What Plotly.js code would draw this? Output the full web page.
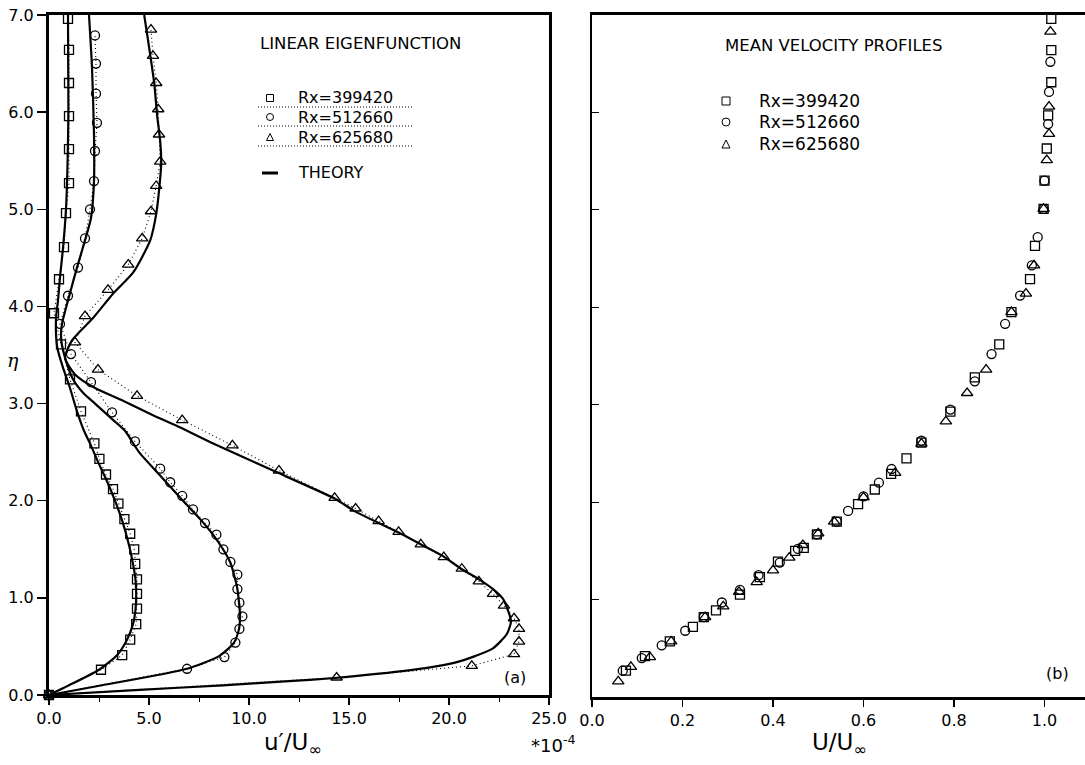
<!DOCTYPE html>
<html>
<head>
<meta charset="utf-8">
<script src="https://cdn.plot.ly/plotly-3.0.1.min.js"></script>
<style>html,body{margin:0;padding:0;background:#fff;}#chart{width:1085px;height:765px;}</style>
</head>
<body>
<div id="chart"></div>
<script>
// ---------- Panel (a): linear eigenfunction u'/U_inf (x 1e-4) vs eta ----------
const seriesNames = ['Rx=399420', 'Rx=512660', 'Rx=625680'];

const sqEta = [0, 0.26, 0.41, 0.57, 0.73, 0.89, 1.04, 1.19, 1.35, 1.50, 1.66, 1.81, 1.97, 2.12, 2.27, 2.43, 2.59, 2.92, 3.25, 3.61, 3.93, 4.28, 4.61, 4.96, 5.27, 5.62, 5.96, 6.30, 6.64, 6.96];
const sqU   = [0, 2.6, 3.66, 4.06, 4.36, 4.4, 4.4, 4.4, 4.31, 4.26, 4.06, 3.77, 3.47, 3.2, 2.85, 2.52, 2.27, 1.6, 1.05, 0.6, 0.25, 0.5, 0.75, 0.85, 1.0, 1.0, 1.0, 1.0, 1.0, 0.95];

const ciEta = [0, 0.27, 0.39, 0.54, 0.68, 0.81, 0.95, 1.09, 1.24, 1.37, 1.50, 1.65, 1.77, 1.91, 2.05, 2.19, 2.33, 2.61, 2.91, 3.22, 3.51, 3.82, 4.11, 4.40, 4.70, 5.00, 5.29, 5.60, 5.89, 6.19, 6.50, 6.79];
const ciU   = [0, 6.9, 8.77, 9.32, 9.52, 9.67, 9.52, 9.42, 9.42, 9.07, 8.72, 8.37, 7.8, 7.2, 6.66, 6.06, 5.56, 4.3, 3.15, 2.1, 1.1, 0.55, 0.95, 1.45, 1.8, 2.05, 2.25, 2.3, 2.4, 2.35, 2.35, 2.3];

const trEta = [0, 0.18, 0.30, 0.42, 0.55, 0.68, 0.79, 0.92, 1.04, 1.17, 1.30, 1.42, 1.55, 1.68, 1.79, 1.92, 2.03, 2.31, 2.57, 2.83, 3.08, 3.35, 3.63, 3.90, 4.17, 4.43, 4.70, 4.98, 5.24, 5.49, 5.77, 6.03, 6.30, 6.58, 6.85];
const trU   = [0, 14.38, 21.14, 23.25, 23.5, 23.5, 23.25, 22.75, 22.2, 21.49, 20.64, 19.74, 18.59, 17.48, 16.48, 15.33, 14.28, 11.5, 9.17, 6.66, 4.4, 2.45, 1.3, 1.8, 2.95, 3.96, 4.66, 5.1, 5.36, 5.56, 5.5, 5.46, 5.36, 5.2, 5.1];

// theory curves
const th1Eta = [0, 0.1, 0.26, 0.41, 0.57, 0.73, 0.89, 1.04, 1.2, 1.35, 1.5, 1.66, 1.8, 2.0, 2.2, 2.4, 2.59, 2.72, 2.92, 3.16, 3.37, 3.57, 3.72, 3.9, 4.06, 4.3, 4.6, 5.0, 5.5, 6.0, 6.5, 7.0];
const th1U   = [0, 1.0, 2.5, 3.4, 3.9, 4.2, 4.33, 4.36, 4.32, 4.2, 4.05, 3.85, 3.65, 3.3, 2.9, 2.45, 2.05, 1.75, 1.4, 1.05, 0.7, 0.42, 0.35, 0.36, 0.45, 0.55, 0.7, 0.85, 0.93, 0.97, 0.96, 0.95];

const th2Eta = [0, 0.1, 0.27, 0.4, 0.54, 0.68, 0.81, 0.95, 1.09, 1.24, 1.37, 1.5, 1.65, 1.8, 2.0, 2.25, 2.5, 2.72, 2.85, 3.0, 3.1, 3.25, 3.44, 3.6, 3.7, 3.82, 4.1, 4.4, 4.68, 4.91, 5.29, 5.77, 6.46, 7.0];
const th2U   = [0, 2.65, 6.9, 8.5, 9.25, 9.5, 9.55, 9.5, 9.42, 9.25, 9.05, 8.7, 8.2, 7.6, 6.7, 5.6, 4.5, 3.8, 3.1, 2.3, 1.75, 1.2, 0.85, 0.65, 0.6, 0.65, 1.0, 1.4, 1.8, 2.1, 2.25, 2.25, 2.15, 2.0];

const th3Eta = [0, 0.05, 0.1, 0.14, 0.175, 0.22, 0.28, 0.33, 0.4, 0.48, 0.63, 0.76, 0.9, 0.99, 1.09, 1.19, 1.30, 1.43, 1.55, 1.67, 1.89, 2.02, 2.31, 2.45, 2.6, 2.75, 2.88, 3.03, 3.16, 3.3, 3.47, 3.65, 3.88, 4.13, 4.35, 4.68, 4.95, 5.21, 5.47, 5.7, 5.96, 6.3, 6.73, 7.0];
const th3U   = [0, 4.3, 8.7, 11.8, 14.3, 16.5, 18.9, 20.25, 21.3, 22.2, 22.9, 23.1, 22.9, 22.7, 22.2, 21.5, 20.6, 19.7, 18.6, 17.5, 15.3, 14.3, 11.2, 9.7, 8.1, 6.6, 5.2, 3.7, 2.3, 1.3, 0.8, 1.15, 2.2, 3.2, 4.21, 5.06, 5.36, 5.51, 5.61, 5.56, 5.41, 5.26, 4.96, 4.76];

const aTickVals = [0, 5, 10, 15, 20, 25];
const aTickText = ['0.0', '5.0', '10.0', '15.0', '20.0', '25.0'];
const etaTickVals = [0, 1, 2, 3, 4, 5, 6, 7];
const etaTickText = ['0.0', '1.0', '2.0', '3.0', '4.0', '5.0', '6.0', '7.0'];

// ---------- Panel (b): mean velocity profiles U/U_inf vs eta ----------
const mSqU   = [0.075, 0.117, 0.172, 0.223, 0.247, 0.274, 0.327, 0.371, 0.411, 0.449, 0.468, 0.497, 0.541, 0.588, 0.625, 0.661, 0.695, 0.728, 0.792, 0.846, 0.90, 0.927, 0.968, 0.979, 0.998, 1.0, 1.005, 1.008, 1.015, 1.015, 1.015];
const mSqEta = [0.27, 0.42, 0.57, 0.72, 0.82, 0.89, 1.05, 1.23, 1.39, 1.50, 1.53, 1.67, 1.80, 1.98, 2.13, 2.29, 2.45, 2.61, 2.93, 3.28, 3.62, 3.95, 4.29, 4.63, 5.01, 5.30, 5.63, 5.97, 6.31, 6.64, 6.96];

const mCiU   = [0.068, 0.11, 0.154, 0.206, 0.247, 0.287, 0.327, 0.368, 0.415, 0.455, 0.497, 0.541, 0.566, 0.60, 0.634, 0.662, 0.728, 0.792, 0.846, 0.883, 0.913, 0.946, 0.972, 0.985, 0.998, 1.0, 1.008, 1.01, 1.013];
const mCiEta = [0.27, 0.40, 0.53, 0.68, 0.82, 0.97, 1.10, 1.25, 1.38, 1.52, 1.67, 1.80, 1.91, 2.06, 2.20, 2.34, 2.63, 2.95, 3.24, 3.52, 3.83, 4.12, 4.43, 4.72, 5.01, 5.30, 5.88, 6.21, 6.52];

const mTrU   = [0.058, 0.086, 0.128, 0.175, 0.25, 0.29, 0.325, 0.364, 0.40, 0.436, 0.466, 0.50, 0.535, 0.60, 0.67, 0.728, 0.782, 0.829, 0.871, 0.927, 0.959, 0.977, 0.998, 1.005, 1.01, 1.01, 1.013];
const mTrEta = [0.16, 0.31, 0.41, 0.57, 0.82, 0.93, 1.08, 1.18, 1.30, 1.43, 1.56, 1.68, 1.80, 2.05, 2.30, 2.60, 2.83, 3.12, 3.36, 3.95, 4.14, 4.43, 5.01, 5.51, 5.78, 6.06, 6.83];

const bTickVals = [0, 0.2, 0.4, 0.6, 0.8, 1.0];
const bTickText = ['0.0', '0.2', '0.4', '0.6', '0.8', '1.0'];

// ---------- helpers ----------
const W = 1085, H = 765;
const px = v => v / W;
const py = v => 1 - v / H;
const FONT = 'DejaVu Sans, Liberation Sans, sans-serif';
const BLACK = '#000';

const symbols = ['square-open', 'circle-open', 'triangle-up-open'];
const symSize = [9, 9, 10];

function dataTrace(u, eta, i, xa, ya, withLine) {
  return {
    x: u, y: eta, xaxis: xa, yaxis: ya,
    type: 'scatter', mode: withLine ? 'lines+markers' : 'markers',
    name: seriesNames[i], showlegend: false, cliponaxis: false,
    line: {color: BLACK, width: 1.1, dash: '1px,3px'},
    marker: {symbol: symbols[i], size: symSize[i], color: BLACK, line: {color: BLACK, width: 1.3}}
  };
}
function theoryTrace(u, eta) {
  return {x: u, y: eta, xaxis: 'x', yaxis: 'y', type: 'scatter', mode: 'lines',
    line: {color: BLACK, width: 2.2, shape: 'spline', smoothing: 0.6}, showlegend: false, cliponaxis: true, name: 'THEORY'};
}

const traces = [
  theoryTrace(th1U, th1Eta), theoryTrace(th2U, th2Eta), theoryTrace(th3U, th3Eta),
  dataTrace(sqU, sqEta, 0, 'x', 'y', true),
  dataTrace(ciU, ciEta, 1, 'x', 'y', true),
  dataTrace(trU, trEta, 2, 'x', 'y', true),
  dataTrace(mSqU, mSqEta, 0, 'x2', 'y2', false),
  dataTrace(mCiU, mCiEta, 1, 'x2', 'y2', false),
  dataTrace(mTrU, mTrEta, 2, 'x2', 'y2', false)
];

const tickFont = {family: FONT, size: 16, color: BLACK};
const layout = {
  width: W, height: H,
  margin: {l: 0, r: 0, t: 0, b: 0},
  paper_bgcolor: '#fff', plot_bgcolor: '#fff',
  showlegend: false,
  font: {family: FONT, color: BLACK, size: 16},
  xaxis: {
    domain: [px(49), px(549)], range: [0, 25], anchor: 'y',
    tickvals: aTickVals, ticktext: aTickText, ticks: 'outside', ticklen: 7, tickwidth: 1.5, tickcolor: BLACK,
    minor: {ticks: 'outside', dtick: 2.5, ticklen: 4, tickwidth: 1, tickcolor: BLACK},
    showline: true, linewidth: 3, linecolor: BLACK, mirror: true,
    showgrid: false, zeroline: false, tickfont: tickFont
  },
  yaxis: {
    domain: [py(695), py(15)], range: [0, 7], anchor: 'x',
    tickvals: etaTickVals, ticktext: etaTickText, ticks: 'outside', ticklen: 9, tickwidth: 1.5, tickcolor: BLACK,
    showline: true, linewidth: 3, linecolor: BLACK, mirror: true,
    showgrid: false, zeroline: false, tickfont: tickFont
  },
  xaxis2: {
    domain: [px(592), 1], range: [0, 1.0895], anchor: 'y2',
    tickvals: bTickVals, ticktext: bTickText, ticks: 'outside', ticklen: 7, tickwidth: 1.5, tickcolor: BLACK,
    showline: true, linewidth: 3, linecolor: BLACK, mirror: true,
    showgrid: false, zeroline: false, tickfont: tickFont
  },
  yaxis2: {
    domain: [py(697), py(15)], range: [0, 7], anchor: 'x2',
    tickvals: etaTickVals, ticks: 'inside', ticklen: 7, tickwidth: 1, tickcolor: BLACK,
    showticklabels: false, tickfont: tickFont,
    showline: true, linewidth: 2.5, linecolor: BLACK, mirror: false,
    showgrid: false, zeroline: false
  },
  annotations: [],
  shapes: []
};

function note(text, x, y, size, xanchor, extra) {
  layout.annotations.push(Object.assign({
    text: text, xref: 'paper', yref: 'paper', x: px(x), y: py(y),
    xanchor: xanchor || 'center', yanchor: 'middle', showarrow: false,
    font: {family: FONT, size: size, color: BLACK}
  }, extra || {}));
}

// panel titles
note('LINEAR EIGENFUNCTION', 360, 43, 16.5);
note('MEAN VELOCITY PROFILES', 833, 45, 16.5);

// axis titles
note('u\u2032/U<sub>\u221e</sub>', 293, 744, 23);
note('*10<sup>-4</sup>', 553, 744, 18);
note('U/U<sub>\u221e</sub>', 839, 744, 23);
note('\u03b7', 13, 360, 19, 'center', {font: {family: 'DejaVu Serif, serif', size: 19, color: BLACK, style: 'italic'}});
note('(a)', 515, 677, 16);
note('(b)', 1057, 673, 16);

// legend markers (drawn as shapes)
function legendMarker(kind, cx, cy, s) {
  const h = s / 2;
  const common = {xref: 'paper', yref: 'paper', line: {color: BLACK, width: 1}, fillcolor: 'rgba(0,0,0,0)'};
  if (kind === 0) layout.shapes.push(Object.assign({type: 'rect', x0: px(cx - h), x1: px(cx + h), y0: py(cy + h), y1: py(cy - h)}, common));
  else if (kind === 1) layout.shapes.push(Object.assign({type: 'circle', x0: px(cx - h), x1: px(cx + h), y0: py(cy + h), y1: py(cy - h)}, common));
  else layout.shapes.push(Object.assign({type: 'path',
    path: `M ${px(cx - h)} ${py(cy + h)} L ${px(cx + h)} ${py(cy + h)} L ${px(cx)} ${py(cy - h)} Z`}, common));
}

// left legend
const leftRows = [98, 117, 137];
seriesNames.forEach((n, i) => {
  legendMarker(i, 270, leftRows[i], 7);
  note(n, 296, leftRows[i], 16, 'left');
  layout.shapes.push({type: 'line', xref: 'paper', yref: 'paper', x0: px(258), x1: px(412),
    y0: py(leftRows[i] + 9), y1: py(leftRows[i] + 9), line: {color: BLACK, width: 1, dash: '1px,2px'}});
});
layout.shapes.push({type: 'line', xref: 'paper', yref: 'paper', x0: px(262), x1: px(278),
  y0: py(173), y1: py(173), line: {color: BLACK, width: 3}});
note('THEORY', 296, 173, 16, 'left');

// right legend
const rightRows = [101, 122, 144];
seriesNames.forEach((n, i) => {
  legendMarker(i, 726, rightRows[i], 8);
  note(n, 757, rightRows[i], 17, 'left');
});

Plotly.newPlot('chart', traces, layout, {staticPlot: true, displayModeBar: false});
</script>
</body>
</html>
